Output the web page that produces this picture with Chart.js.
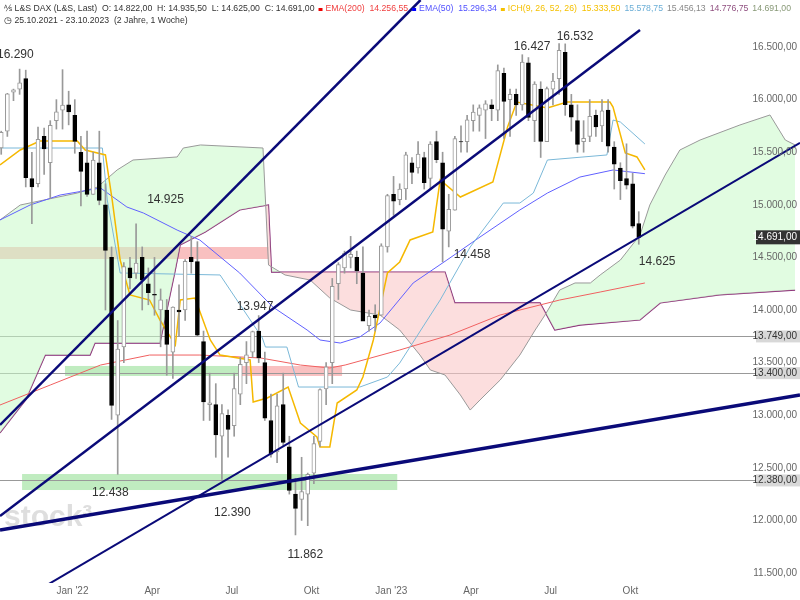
<!DOCTYPE html>
<html><head><meta charset="utf-8">
<script src="https://cdn.jsdelivr.net/npm/chart.js@4"></script>
<style>html,body{margin:0;padding:0;background:#fff}#w{width:800px;height:600px}</style>
</head><body><div id="w"><canvas id="c" width="800" height="600"></canvas></div>
<script>
// Weekly OHLC, index 0 = week of 25.10.2021
const opens=[15540,15700,16070,16100,16200,15250,15200,15650,15400,15800,15900,15950,15850,15500,15400,15100,15400,15000,14500,13000,13650,14400,14350,14500,14250,14150,14000,14000,13600,14000,14000,14500,14460,13700,13100,13100,12800,13000,12900,13200,13500,13600,13800,13500,12950,12650,13100,12700,12250,12200,12250,12450,12750,13250,13500,14250,14400,14500,14500,14350,13850,13950,13950,14600,15100,15050,15150,15400,15350,15450,15250,15600,15400,14750,14950,15600,15600,15800,15850,15900,15950,15900,16250,16000,16050,15950,16350,15800,16100,15600,16100,16200,16450,15950,15800,15600,15650,15850,15750,15900,15550,15350,15250,15200,14822];
const highs=[15700,16060,16100,16290,16280,15500,15740,15730,15800,16000,16285,16080,16000,15650,15700,15500,15700,15200,14600,13900,14450,14500,14820,14600,14400,14500,14200,14100,14030,14240,14480,14700,14650,13800,13400,13300,13100,13050,13400,13550,13700,13800,13947,13600,13200,13200,13400,12800,12400,12600,12450,12800,13250,13500,14300,14450,14560,14700,14560,14600,14000,14050,14630,15100,15270,15200,15500,15450,15600,15500,15600,15700,15500,15100,15650,15750,15850,15950,15950,15990,16000,16330,16300,16100,16100,16427,16400,16170,16170,16120,16250,16532,16530,16050,15950,15800,16000,15900,16000,16000,15600,15400,15580,15300,14935];
const lows=[15480,15650,15990,16050,15170,14820,15170,15290,15060,15720,15720,15760,15490,14990,15080,15100,15000,14000,12960,12438,13500,14200,14300,14000,14050,13950,13650,13380,13350,13750,13900,14350,13750,12950,12950,12600,12390,12600,12800,13100,13300,13550,13500,12950,12600,12550,12700,12250,11862,12000,11950,12350,12700,13100,13300,14100,14350,14400,14250,13900,13800,13800,13950,14550,14900,15000,15050,15200,15300,15150,15150,15400,14458,14600,14950,15500,15500,15700,15700,15630,15800,15800,15630,15650,15850,15900,15800,15600,15450,15600,15950,16050,15850,15700,15500,15500,15600,15650,15600,15500,15150,15050,15150,14780,14625];
const closes=[15688,16054,16094,16160,15257,15170,15623,15532,15756,15885,15948,15883,15603,15318,15100,15425,15042,14567,13094,13628,14413,14306,14446,14284,14164,14142,14098,13674,14027,13982,14462,14460,13762,13127,13118,12813,13016,12864,13254,13484,13574,13795,13544,12971,12630,13088,12741,12284,12114,12273,12438,12731,13243,13460,14225,14431,14541,14529,14371,13894,13941,13924,14610,15087,15034,15150,15476,15308,15482,15210,15578,15428,14768,14957,15629,15598,15808,15882,15922,15961,15914,16275,15984,16051,15950,16358,15830,16148,15603,16105,16177,16469,15952,15832,15574,15632,15840,15740,15893,15557,15386,15229,15187,14798,14691];
// Indicator lines: [week index, value]
const ema200=[[-0.2,13097],[8,13287],[16.2,13477],[24.2,13572],[32.4,13572],[42.3,13544],[48.8,13477],[53.6,13449],[56.1,13477],[65,13620],[73.2,13762],[81.4,13953],[91.1,14095],[97.7,14171],[105,14257]];
const ema50=[[-0.2,14856],[4.7,14998],[9.6,15093],[16.2,15160],[20.5,14979],[23.2,14922],[28.7,14760],[32.4,14665],[38.9,14352],[44.3,14029],[49.9,13810],[52,13715],[55.3,13686],[58.5,13744],[61.8,13877],[67.2,14257],[72.7,14475],[78.1,14694],[84.6,14951],[89.1,15112],[94.4,15264],[99.8,15331],[105,15296]];
const tenkan=[[-0.2,15379],[3.1,15521],[6.3,15607],[12.4,15607],[13.7,15521],[17,15474],[18.1,15046],[19.4,14475],[21,14143],[24.2,14095],[25.9,13905],[28.4,13667],[29.2,14095],[31.6,14114],[34.1,13715],[35.7,13572],[40.6,13525],[41.1,13126],[43.4,13164],[46.8,13268],[48.8,12926],[51.5,12793],[52,12698],[53.6,12698],[54.8,13116],[58,13240],[59,13363],[60.7,13715],[63,14352],[65,14457],[66.7,14666],[70.4,14742],[71.6,15236],[74.9,15074],[80.2,15217],[82.6,15740],[84.1,15977],[89.1,15920],[92.3,15977],[99.3,15977],[99.8,15930],[101.8,15493],[103.7,15455],[105,15333]];
const kijun=[[-0.2,15540],[16.5,15540],[17.3,15046],[19.4,14352],[35.7,14333],[42.6,13734],[43.1,13648],[46.6,13648],[48.5,13268],[58.5,13268],[63,13363],[65,13496],[71.6,14095],[76.5,14599],[81.9,15017],[84.6,15017],[86.8,15112],[89.1,15426],[98.8,15474],[99.8,15806],[101,15787],[105,15578]];
const spanA=[[-0.2,14856],[3.1,14998],[12.4,15112],[15.7,15169],[18.9,15331],[21.5,15426],[28.7,15455],[29.7,15540],[32.5,15569],[42.7,15540],[43.6,14428],[46.3,14333],[50.4,14285],[53.6,14114],[57,14000],[61.8,13952],[65,13810],[68.3,13572],[70,13430],[72.4,13382],[74.9,13192],[76.5,13049],[78.1,13145],[81.4,13335],[84.6,13572],[87.1,13810],[88.7,13952],[91.1,14190],[93.6,14257],[96.1,14257],[97.7,14333],[101,14475],[104.2,14713],[105.8,14998],[108.3,15283],[110.7,15521],[114,15616],[120.5,15759],[125.4,15854],[127.9,15616],[129.5,15569]];
const spanB=[[-0.2,12831],[4,13145],[7.2,13572],[14.5,13572],[15.3,13686],[25.9,13686],[28.4,14380],[29.2,14618],[33.3,14742],[38.9,14951],[43.6,14998],[44.1,14361],[72.4,14361],[74,14067],[87.9,14067],[90.3,13810],[94.4,13857],[104.2,13905],[107.5,14067],[117.2,14143],[129.5,14190]];
// Trend lines [[i,v],[i,v]]
const trendA=[[-0.2,12907],[68.4,16947]];
const trendB=[[-0.2,12042],[104.2,16662]];
const trendC=[[4.7,11291],[130.3,15588]];
const trendD=[[-0.2,11909],[130.3,13192]];
// Horizontal levels and zones
const hLevels=[13749,13400,12380];
const zones=[{x0:-0.2,x1:43.6,y0:14485,y1:14599,c:'rgba(245,150,150,0.6)'},{x0:3.4,x1:64.6,y0:12289,y1:12441,c:'rgba(140,220,140,0.55)'},{x0:10.4,x1:38.7,y0:13373,y1:13468,c:'rgba(140,220,140,0.55)'},{x0:38.7,x1:55.6,y0:13373,y1:13468,c:'rgba(245,150,150,0.6)'}];
const notes=[['16.290',2.3,16424],['14.925',26.8,15046],['13.947',41.4,14029],['12.438',17.8,12260],['12.390',37.7,12070],['11.862',49.6,11671],['16.427',86.6,16500],['16.532',93.6,16595],['14.458',76.8,14523],['14.625',107,14456]];
const yTicks=[11500,12000,12500,13000,13500,14000,14500,15000,15500,16000,16500];
const xLabels=[[10,"Jan '22"],[23,'Apr'],[36,'Jul'],[49,'Okt'],[62,"Jan '23"],[75,'Apr'],[88,'Jul'],[101,'Okt']];
const lastPrice=14691;

const fmt=v=>{const s=Math.round(v).toString();return s.slice(0,s.length-3)+'.'+s.slice(-3)+',00';};
const pts=a=>a.map(p=>({x:p[0],y:p[1]}));
const idx=closes.map((_,i)=>i);
const bodies=idx.map(i=>({x:i,y:[opens[i],closes[i]]}));
const wicks=idx.map(i=>({x:i,y:[lows[i],highs[i]]}));
const up=idx.map(i=>closes[i]>=opens[i]);
const line=(d,c,w,o)=>({type:'line',data:pts(d),borderColor:c,borderWidth:w,pointRadius:0,fill:false,tension:0,order:o});

const deco={id:'deco',
 beforeDatasetsDraw(ch){const {ctx,chartArea:a,scales:{x,y}}=ch;ctx.save();
  zones.forEach(z=>{ctx.fillStyle=z.c;const px0=x.getPixelForValue(z.x0),px1=x.getPixelForValue(z.x1),py0=y.getPixelForValue(z.y1),py1=y.getPixelForValue(z.y0);ctx.fillRect(px0,py0,px1-px0,py1-py0);});
  ctx.strokeStyle='#999';ctx.lineWidth=1;
  hLevels.forEach(v=>{const py=Math.round(y.getPixelForValue(v))+0.5;ctx.beginPath();ctx.moveTo(a.left,py);ctx.lineTo(a.right,py);ctx.stroke();});
  ctx.font='bold 30px "Liberation Sans",Arial';ctx.fillStyle='rgba(200,200,200,0.6)';ctx.textBaseline='alphabetic';ctx.fillText('stock³',4,y.getPixelForValue(11950));
  ctx.restore();},
 afterDraw(ch){const {ctx,chartArea:a,scales:{x,y}}=ch;ctx.save();
  ctx.font='12px "Liberation Sans",Arial';ctx.fillStyle='#333';ctx.textAlign='center';ctx.textBaseline='middle';
  notes.forEach(n=>ctx.fillText(n[0],x.getPixelForValue(n[1]),y.getPixelForValue(n[2])));
  ctx.font='10px "Liberation Sans",Arial';ctx.textAlign='right';ctx.fillStyle='#666';
  yTicks.forEach(v=>ctx.fillText(fmt(v),797,y.getPixelForValue(v)));
  hLevels.forEach(v=>{const py=y.getPixelForValue(v);ctx.fillStyle='#d8d8d8';ctx.fillRect(756,py-6,44,12);ctx.fillStyle='#333';ctx.fillText(fmt(v),797,py);});
  const lp=y.getPixelForValue(lastPrice);ctx.fillStyle='#333';ctx.fillRect(756,lp-7,44,14);ctx.fillStyle='#fff';ctx.fillText(fmt(lastPrice),797,lp);
  ctx.fillStyle='#666';ctx.textAlign='center';
  xLabels.forEach(l=>ctx.fillText(l[1],x.getPixelForValue(l[0])+10,591));
  // header
  ctx.textAlign='left';ctx.font='8.7px "Liberation Sans",Arial';let cx=4;
  const seg=(t,c)=>{ctx.fillStyle=c;ctx.fillText(t,cx,9);cx+=ctx.measureText(t).width+4;};
  const sq=c=>{ctx.fillStyle=c;ctx.fillRect(cx,8,4,3);cx+=7;};
  seg('⅍ L&S DAX (L&S, Last)  O: 14.822,00  H: 14.935,50  L: 14.625,00  C: 14.691,00','#333');
  sq('#e00');seg('EMA(200)  14.256,55','#f04040');sq('#00f');seg('EMA(50)  15.296,34','#5050ff');
  sq('#f5c000');seg('ICH(9, 26, 52, 26)  15.333,50','#f5c000');seg('15.578,75','#6baed6');seg('15.456,13','#888');seg('14.776,75','#905080');seg('14.691,00','#889977');
  ctx.fillStyle='#333';ctx.fillText('◷ 25.10.2021 - 23.10.2023  (2 Jahre, 1 Woche)',4,21);
  ctx.restore();}
};

new Chart(document.getElementById('c'),{
 data:{datasets:[
  line(trendA,'#0a0a78',2.5,1),line(trendB,'#0a0a78',2.5,1),line(trendC,'#0a0a78',2,1),line(trendD,'#0a0a78',3.5,1),
  {type:'bar',data:bodies,grouped:false,barThickness:4,backgroundColor:up.map(u=>u?'#fff':'#000'),borderColor:up.map(u=>u?'#999':'#000'),borderWidth:1,borderSkipped:false,order:2},
  {type:'bar',data:wicks,grouped:false,barThickness:1,backgroundColor:'#999',order:3},
  line(tenkan,'#f5b800',1.5,4),line(kijun,'#7ab8d8',1,4),line(ema50,'#6060ff',1,4),line(ema200,'#f06060',1,4),
  {type:'line',data:pts(spanA),borderColor:'#999',borderWidth:1,pointRadius:0,tension:0,order:5,fill:{target:11,above:'rgba(200,250,200,0.55)',below:'rgba(250,200,200,0.6)'}},
  {type:'line',data:pts(spanB),borderColor:'#802070',borderWidth:1.2,pointRadius:0,tension:0,order:5,fill:false}
 ]},
 options:{responsive:false,animation:false,layout:{padding:{left:0,right:0,top:0,bottom:17}},
  plugins:{legend:{display:false},tooltip:{enabled:false}},
  scales:{x:{type:'linear',min:-0.2,max:130.3,display:false,offset:false},y:{min:11405,max:16947,display:false}}},
 plugins:[deco]
});
</script></body></html>
